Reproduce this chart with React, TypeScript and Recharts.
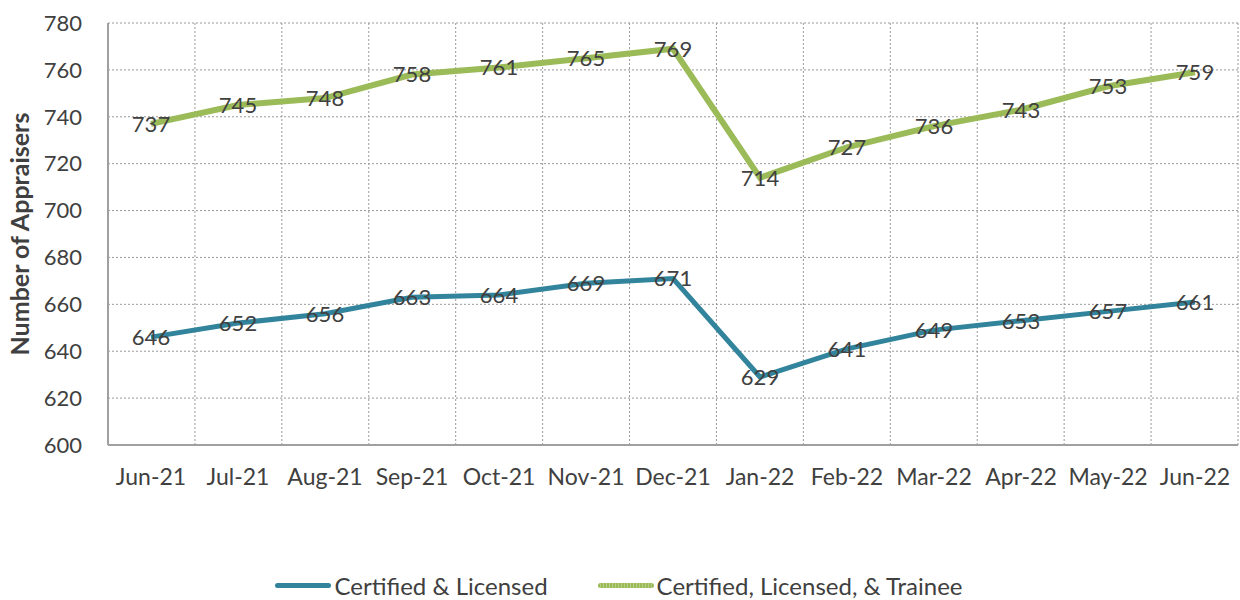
import { LineChart, Line, XAxis, YAxis, CartesianGrid, Legend, LabelList } from 'recharts';

const months = ['Jun-21', 'Jul-21', 'Aug-21', 'Sep-21', 'Oct-21', 'Nov-21', 'Dec-21', 'Jan-22', 'Feb-22', 'Mar-22', 'Apr-22', 'May-22', 'Jun-22'];
const certifiedLicensed = [646, 652, 656, 663, 664, 669, 671, 629, 641, 649, 653, 657, 661];
const withTrainee = [737, 745, 748, 758, 761, 765, 769, 714, 727, 736, 743, 753, 759];
const yTicks = [600, 620, 640, 660, 680, 700, 720, 740, 760, 780];

const data = months.map((m, i) => ({ month: m, cl: certifiedLicensed[i], clt: withTrainee[i] }));

const FONT = 'Lato, "Open Sans", sans-serif';
const TEAL = '#31849b';
const GREEN = '#9bbb59';

function LegendBox() {
  const item = (color: string, text: string, textured: boolean) => (
    <div style={{ display: 'flex', alignItems: 'center', margin: '0 25px' }}>
      <div
        style={{
          width: 56,
          height: 5,
          borderRadius: 3,
          background: textured
            ? `repeating-linear-gradient(90deg, ${GREEN} 0 2px, #b5cc88 2px 3px)`
            : color,
        }}
      />
      <span style={{ marginLeft: 3 }}>{text}</span>
    </div>
  );
  return (
    <div
      style={{
        display: 'flex',
        justifyContent: 'center',
        alignItems: 'center',
        height: 30,
        fontFamily: FONT,
        fontSize: 24,
        color: '#404040',
      }}
    >
      {item(TEAL, 'Certified & Licensed', false)}
      {item(GREEN, 'Certified, Licensed, & Trainee', true)}
    </div>
  );
}

export default function App() {
  return (
    <div style={{ position: 'absolute', left: 0, top: 0, background: '#fff' }}>
      <LineChart width={1240} height={600} data={data} margin={{ top: 23, right: 2, left: 0, bottom: 0 }}>
        <CartesianGrid
          stroke="#999"
          strokeDasharray="2 2"
          verticalCoordinatesGenerator={({ offset }: any) =>
            Array.from({ length: months.length + 1 }, (_, i) => offset.left + (i * offset.width) / months.length)
          }
        />
        <XAxis
          dataKey="month"
          tickLine={false}
          axisLine={{ stroke: '#a0a0a0', strokeWidth: 2 }}
          tick={{ fill: '#404040', fontSize: 23, fontFamily: FONT }}
          tickMargin={18}
          height={125}
          interval={0}
          padding={{ left: 43, right: 43 }}
        />
        <YAxis
          domain={[600, 780]}
          ticks={yTicks}
          tickLine={false}
          axisLine={{ stroke: '#a0a0a0', strokeWidth: 2 }}
          tick={{ fill: '#404040', fontSize: 22, fontFamily: FONT }}
          tickMargin={20}
          width={108}
          interval={0}
          label={{
            value: 'Number of Appraisers',
            angle: -90,
            position: 'insideLeft',
            offset: 20,
            style: { textAnchor: 'middle', fill: '#404040', fontSize: 25, fontWeight: 'bold', fontFamily: FONT },
          }}
        />
        <Legend verticalAlign="bottom" content={() => <LegendBox />} />
        <Line
          type="linear"
          dataKey="cl"
          name="Certified & Licensed"
          stroke={TEAL}
          strokeWidth={5}
          dot={false}
          isAnimationActive={false}
        >
          <LabelList dataKey="cl" position="center" fill="#404040" fontSize={22} fontFamily={FONT} />
        </Line>
        <Line
          type="linear"
          dataKey="clt"
          name="Certified, Licensed, & Trainee"
          stroke={GREEN}
          strokeWidth={6}
          dot={false}
          isAnimationActive={false}
        >
          <LabelList dataKey="clt" position="center" fill="#404040" fontSize={22} fontFamily={FONT} />
        </Line>
      </LineChart>
    </div>
  );
}
